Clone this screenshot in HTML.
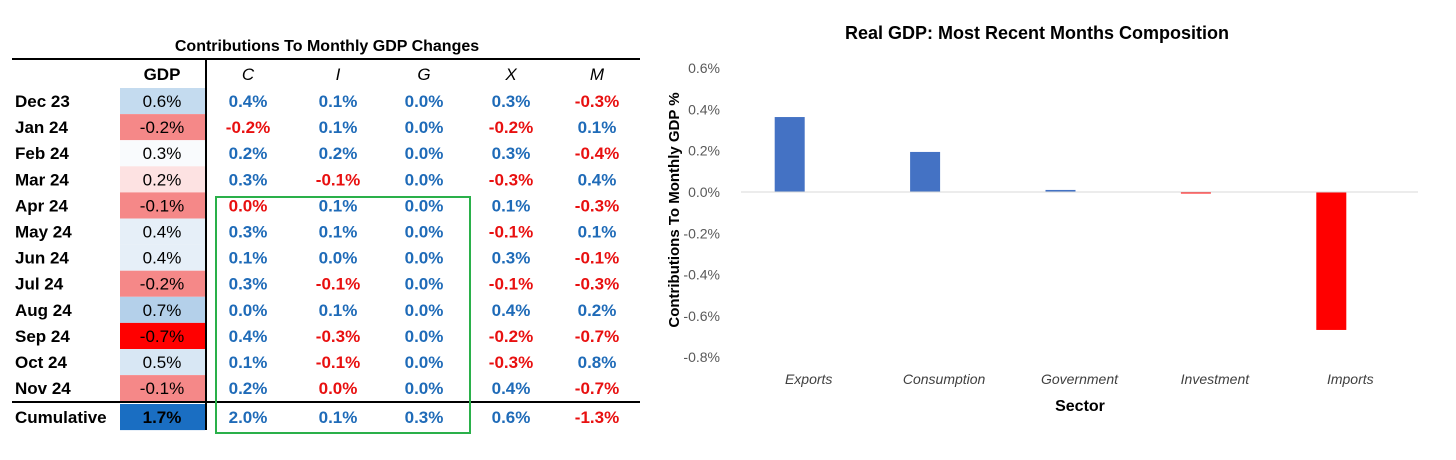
<!DOCTYPE html>
<html><head><meta charset="utf-8"><style>
body{margin:0;width:1456px;height:460px;background:#fff;font-family:"Liberation Sans",sans-serif;overflow:hidden;position:relative}
.t{position:absolute;font-size:16px;font-weight:bold;white-space:nowrap;transform:translate(-50%,-50%)}
</style></head><body>
<div class="t" style="left:327px;top:47px;font-size:16px">Contributions To Monthly GDP Changes</div>
<svg id="tbl" width="660" height="460" style="position:absolute;left:0;top:0"></svg>
<svg id="chart" width="1456" height="460" style="position:absolute;left:0;top:0"></svg>
<script>
const months=["Dec 23","Jan 24","Feb 24","Mar 24","Apr 24","May 24","Jun 24","Jul 24","Aug 24","Sep 24","Oct 24","Nov 24","Cumulative"];
const gdp=[0.6,-0.2,0.3,0.2,-0.1,0.4,0.4,-0.2,0.7,-0.7,0.5,-0.1,1.7];
const colC=[0.4,-0.2,0.2,0.3,0.0,0.3,0.1,0.3,0.0,0.4,0.1,0.2,2.0];
const colI=[0.1,0.1,0.2,-0.1,0.1,0.1,0.0,-0.1,0.1,-0.3,-0.1,0.0,0.1];
const colG=[0.0,0.0,0.0,0.0,0.0,0.0,0.0,0.0,0.0,0.0,0.0,0.0,0.3];
const colX=[0.3,-0.2,0.3,-0.3,0.1,-0.1,0.3,-0.1,0.4,-0.2,-0.3,0.4,0.6];
const colM=[-0.3,0.1,-0.4,0.4,-0.3,0.1,-0.1,-0.3,0.2,-0.7,0.8,-0.7,-1.3];
const NS="http://www.w3.org/2000/svg";
function mk(p,tag,at,txt){const e=document.createElementNS(NS,tag);for(const k in at)e.setAttribute(k,at[k]);if(txt!==undefined)e.textContent=txt;p.appendChild(e);return e;}
const T=document.getElementById('tbl');
const F='font-family:"Liberation Sans",sans-serif;';
const rowY=i=>i<12?101+i*26.1:417;
const cx=[162,248,338,424,511,597];
const heads=["GDP","C","I","G","X","M"];
heads.forEach((h,j)=>{const e=mk(T,'text',{x:cx[j],y:80,'text-anchor':'middle',style:F+'font-size:17px;'+(j?'font-style:italic':'font-weight:bold')},h);

});
function gdpColor(v){if(v>=1.5)return'#1a6ec2';if(v>=0.65)return'#b4d0ea';if(v>=0.55)return'#c4dbef';if(v>=0.45)return'#d8e7f4';if(v>=0.35)return'#e6eff8';if(v>=0.25)return'#f9fbfd';if(v>=0.15)return'#fde2e2';if(v>=-0.25)return'#f58888';return'#ff0000';}
months.forEach((m,i)=>{const y=rowY(i);
const lb=mk(T,'text',{x:15,y:y+6,style:F+'font-size:17px;font-weight:bold'},m);


const r=mk(T,'rect',{x:120,y:y-13,width:85,height:26.1,fill:gdpColor(gdp[i])});


const g=mk(T,'text',{x:162,y:y+6,'text-anchor':'middle',style:F+'font-size:17px;'+(i==12?'font-weight:bold':'')},gdp[i].toFixed(1)+'%');


[colC,colI,colG,colX,colM].forEach((c,j)=>{const v=c[i];let red=v<0||(v===0&&j===0&&(i===4))||(v===0&&j===1&&i===11);
const e=mk(T,'text',{x:cx[j+1],y:y+6,'text-anchor':'middle',fill:red?'#e81010':'#1f6bb8',style:F+'font-size:17px;font-weight:bold'},v.toFixed(1)+'%');

});});
mk(T,'line',{x1:12,x2:640,y1:59,y2:59,stroke:'#000','stroke-width':2});
mk(T,'line',{x1:12,x2:640,y1:402,y2:402,stroke:'#000','stroke-width':2});
mk(T,'line',{x1:206,x2:206,y1:59,y2:430,stroke:'#000','stroke-width':2});
const gb=mk(T,'rect',{x:216,y:197,width:254,height:236,fill:'none',stroke:'#2ab04a','stroke-width':2});



// chart
const cats=["Exports","Consumption","Government","Investment","Imports"];
const vals=[0.363,0.194,0.010,-0.005,-0.668];
const ticks=[0.6,0.4,0.2,0.0,-0.2,-0.4,-0.6,-0.8];
const C=document.getElementById('chart');
const y0=192,pxPer=206.5/1.0;
const ys=v=>y0-v*pxPer;
const x0=741,x1=1418,bw=(x1-x0)/cats.length;
const xs=i=>x0+bw*(i+0.5);
const ti=mk(C,'text',{x:1037,y:39,'text-anchor':'middle',style:F+'font-size:18px;font-weight:bold'},'Real GDP: Most Recent Months Composition');


ticks.forEach(t=>{const e=mk(C,'text',{x:720,y:ys(t)+5,'text-anchor':'end',fill:'#595959',style:F+'font-size:14px'},t.toFixed(1)+'%');

});
vals.forEach((v,i)=>{const top=Math.min(ys(v),y0),h=Math.max(Math.abs(ys(v)-y0),1.5);
const r=mk(C,'rect',{x:xs(i)-19-15,y:top,width:30,height:h,fill:v>=0?'#4472c4':'#ff0000'});


const l=mk(C,'text',{x:xs(i),y:384,'text-anchor':'middle',fill:'#404040',style:F+'font-size:14px;font-style:italic'},cats[i]);

});
mk(C,'line',{x1:x0,x2:x1,y1:y0,y2:y0,stroke:'#d9d9d9','stroke-width':1});
const xt=mk(C,'text',{x:1080,y:411,'text-anchor':'middle',style:F+'font-size:16px;font-weight:bold'},'Sector');


const yt=mk(C,'text',{x:0,y:0,'text-anchor':'middle',transform:'translate(679,210) rotate(-90)',style:F+'font-size:15px;font-weight:bold'},'Contributions To Monthly GDP %');


</script>
</body></html>
